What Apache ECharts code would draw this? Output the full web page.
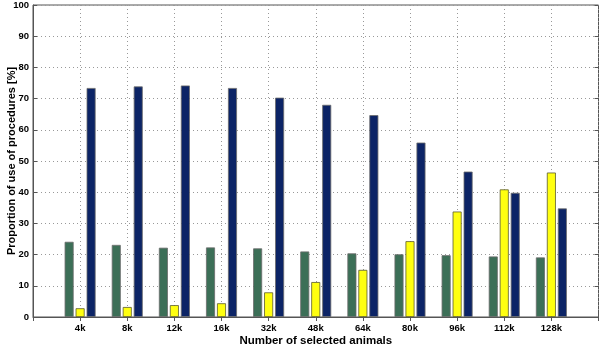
<!DOCTYPE html>
<html><head><meta charset="utf-8">
<script src="https://cdn.jsdelivr.net/npm/echarts@6/dist/echarts.min.js"></script>
<style>html,body{margin:0;padding:0;background:#fff;}#c{width:600px;height:346px;}</style>
</head><body><div id="c"></div>
<script>
const categories = ['4k','8k','12k','16k','32k','48k','64k','80k','96k','112k','128k'];
const greenValues = [24.1, 23.1, 22.2, 22.3, 22.0, 21.0, 20.4, 20.1, 19.8, 19.4, 19.1];
const yellowValues = [2.8, 3.2, 3.8, 4.4, 7.9, 11.2, 15.1, 24.3, 33.8, 40.9, 46.3];
const navyValues = [73.4, 73.9, 74.2, 73.4, 70.3, 68.0, 64.7, 55.9, 46.6, 39.8, 34.8];
const yTicks = [0,10,20,30,40,50,60,70,80,90,100];

const xData = [''].concat(categories, ['']);
const pad = a => [null].concat(a, [null]);
const font = 'Liberation Sans';
const chart = echarts.init(document.getElementById('c'));
const barBase = {type:'bar', barWidth:9, barGap:'22%', itemStyle:{borderColor:'#6b6b6b', borderWidth:0.8}};
chart.setOption({
  animation:false,
  grid:{left:33, right:1.5, top:5, bottom:29, show:true, borderColor:'#555', borderWidth:1,
        outerBoundsMode:'none', containLabel:false},
  xAxis:[{
    type:'category', data:xData, boundaryGap:false,
    name:'Number of selected animals', nameLocation:'middle', nameGap:18, nameMoveOverlap:false,
    nameTextStyle:{fontFamily:font, fontWeight:'bold', fontSize:11.5, color:'#000'},
    axisLine:{lineStyle:{color:'#555'}},
    axisTick:{inside:true, length:4, lineStyle:{color:'#555'}},
    axisLabel:{fontFamily:font, fontWeight:'bold', fontSize:9.5, color:'#000', margin:6, interval:0},
    splitLine:{show:true, lineStyle:{type:[1,3], color:'#999'}}
  },{
    type:'category', data:xData, boundaryGap:false, position:'top',
    axisLine:{show:false}, axisTick:{inside:true, length:4, lineStyle:{color:'#555'}},
    axisLabel:{show:false}, splitLine:{show:false}
  }],
  yAxis:[{
    type:'value', min:0, max:100, interval:10,
    name:'Proportion of use of procedures [%]', nameLocation:'middle', nameGap:16, nameMoveOverlap:false,
    nameTextStyle:{fontFamily:font, fontWeight:'bold', fontSize:11, color:'#000'},
    axisLine:{show:true, lineStyle:{color:'#555'}},
    axisTick:{show:true, inside:true, length:4, lineStyle:{color:'#555'}},
    axisLabel:{fontFamily:font, fontWeight:'bold', fontSize:9.5, color:'#000', margin:4,
      formatter:v => yTicks.includes(v) ? String(v) : ''},
    splitLine:{show:true, lineStyle:{type:[1,3], color:'#999'}}
  },{
    type:'value', min:0, max:100, interval:10, position:'right',
    axisLine:{show:false}, axisTick:{show:true, inside:true, length:4, lineStyle:{color:'#555'}},
    axisLabel:{show:false}, splitLine:{show:false}
  }],
  series:[
    Object.assign({}, barBase, {name:'green', data:pad(greenValues), itemStyle:Object.assign({}, barBase.itemStyle, {color:'#3c6f57'})}),
    Object.assign({}, barBase, {name:'yellow', data:pad(yellowValues), itemStyle:Object.assign({}, barBase.itemStyle, {color:'#ffff10', borderColor:'#5a5a30'})}),
    Object.assign({}, barBase, {name:'navy', data:pad(navyValues), itemStyle:Object.assign({}, barBase.itemStyle, {color:'#0c2466'})})
  ]
});
</script></body></html>
